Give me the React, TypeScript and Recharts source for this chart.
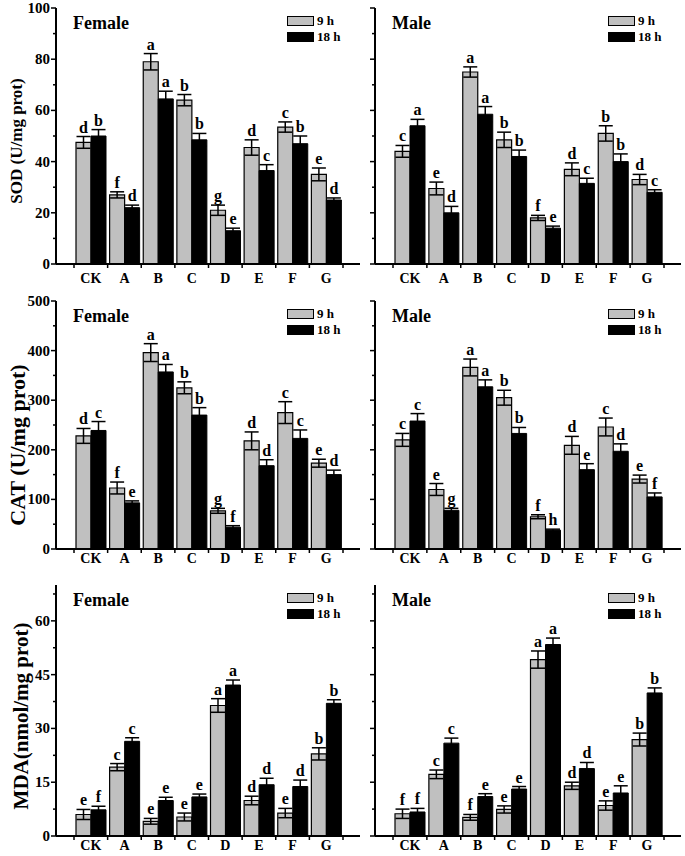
import React from 'react';
import { BarChart, Bar, XAxis, YAxis, ErrorBar, LabelList, Legend } from 'recharts';

const FONT = "'Liberation Serif', 'Times New Roman', Times, serif";

const categories = ['CK', 'A', 'B', 'C', 'D', 'E', 'F', 'G'];
const seriesNames = ['9 h', '18 h'];

// SOD female
const sodF9 = [47.5, 27, 79, 64, 21, 45.5, 53.5, 35];
const sodF9Err = [2.3, 1.2, 3.2, 2.2, 2, 3, 2, 2.5];
const sodF9Sig = ['d', 'f', 'a', 'b', 'g', 'd', 'c', 'e'];
const sodF18 = [50, 22, 64.5, 48.5, 13, 36.5, 47, 25];
const sodF18Err = [2.5, 1, 3, 2.5, 1, 2.3, 3, 0.8];
const sodF18Sig = ['b', 'd', 'a', 'b', 'e', 'c', 'b', 'd'];

// SOD male
const sodM9 = [44, 29.5, 75, 48.5, 18, 37, 51, 33];
const sodM9Err = [2.3, 2.5, 2, 3, 1, 2.5, 3, 2];
const sodM9Sig = ['c', 'e', 'a', 'b', 'f', 'd', 'b', 'd'];
const sodM18 = [54, 20, 58.5, 42, 14, 31.5, 40, 28];
const sodM18Err = [2.5, 2.5, 3, 2.5, 0.8, 2, 3, 1];
const sodM18Sig = ['a', 'd', 'a', 'b', 'e', 'c', 'b', 'c'];

// CAT female
const catF9 = [228, 123, 396, 325, 77, 218, 275, 173];
const catF9Err = [15, 12, 18, 12, 5, 18, 22, 8];
const catF9Sig = ['d', 'f', 'a', 'b', 'g', 'd', 'c', 'e'];
const catF18 = [239, 93, 357, 270, 44, 168, 223, 150];
const catF18Err = [18, 4, 15, 15, 3, 12, 17, 9];
const catF18Sig = ['c', 'e', 'a', 'b', 'f', 'd', 'c', 'd'];

// CAT male
const catM9 = [220, 120, 366, 305, 65, 209, 246, 141];
const catM9Err = [13, 12, 17, 15, 4, 18, 18, 8];
const catM9Sig = ['c', 'e', 'a', 'b', 'f', 'd', 'c', 'e'];
const catM18 = [258, 78, 327, 233, 38, 160, 197, 105];
const catM18Err = [15, 4, 14, 12, 2, 12, 15, 8];
const catM18Sig = ['c', 'g', 'a', 'b', 'h', 'e', 'd', 'f'];

// MDA female
const mdaF9 = [6, 19.2, 4.1, 5.3, 36.4, 9.9, 6.4, 22.9];
const mdaF9Err = [1.4, 1, 0.8, 1.1, 1.9, 1.2, 1.3, 1.7];
const mdaF9Sig = ['e', 'c', 'e', 'e', 'a', 'd', 'e', 'b'];
const mdaF18 = [7.3, 26.4, 9.9, 10.9, 42.1, 14.3, 13.8, 37];
const mdaF18Err = [1, 1, 0.9, 0.8, 1.4, 1.8, 1.8, 1];
const mdaF18Sig = ['f', 'c', 'e', 'e', 'a', 'd', 'd', 'b'];

// MDA male
const mdaM9 = [6.2, 17.2, 5.2, 7.4, 49.2, 14, 8.5, 26.9];
const mdaM9Err = [1.3, 1.2, 0.8, 1, 2.4, 1, 1.3, 1.8];
const mdaM9Sig = ['f', 'c', 'f', 'e', 'a', 'd', 'e', 'b'];
const mdaM18 = [6.7, 25.9, 11, 13.1, 53.4, 18.8, 12, 39.9];
const mdaM18Err = [1, 1.4, 0.8, 0.7, 1.8, 1.7, 2, 1.4];
const mdaM18Sig = ['f', 'c', 'e', 'e', 'a', 'd', 'e', 'b'];

type Row = { cat: string; v9: number; e9: number; l9: string; v18: number; e18: number; l18: string };

function makeRows(v9: number[], e9: number[], l9: string[], v18: number[], e18: number[], l18: string[]): Row[] {
  return categories.map((c, i) => ({ cat: c, v9: v9[i], e9: e9[i], l9: l9[i], v18: v18[i], e18: e18[i], l18: l18[i] }));
}

interface Spec {
  rows: Row[];
  max: number;
  step: number;
  major: number;
  left: number;
  right: number;
  top: number;
  bottom: number;
  showY: boolean;
  title: string;
  xGap: number;
}

function Panel({ spec }: { spec: Spec }) {
  const yW = spec.showY ? 50 : 8;
  const mTop = 10;
  const mRight = 4;
  const xH = 22;
  const plotW = spec.right - spec.left;
  const plotH = spec.bottom - spec.top;
  const width = plotW + yW + mRight;
  const height = plotH + mTop + xH;
  const cLeft = spec.left - yW;
  const cTop = spec.top - mTop;
  const padL = 18;
  const padR = 17;
  const n = categories.length;
  const band = (plotW - padL - padR) / n;
  const pxPerUnit = plotH / spec.max;
  const ticks: number[] = [];
  for (let k = 0; k * spec.step <= spec.max + 1e-9; k++) ticks.push(k * spec.step);

  const YTick = (props: any) => {
    const { x, y, payload } = props;
    const v = payload.value;
    const r = v / spec.major;
    const isMajor = Math.abs(r - Math.round(r)) < 1e-6;
    return (
      <g>
        <line x1={x} x2={x - (isMajor ? 5 : 3)} y1={y} y2={y} stroke="#000" strokeWidth={1.5} />
        {spec.showY && isMajor && (
          <text x={x - 6} y={y} dy={5} textAnchor="end" fontSize={15} fontWeight="bold" fontFamily={FONT} fill="#000">
            {v}
          </text>
        )}
      </g>
    );
  };

  const XTick = (props: any) => {
    const { x, y, payload, index } = props;
    return (
      <g>
        <line x1={x - band / 2} x2={x - band / 2} y1={y} y2={y + 4} stroke="#000" strokeWidth={1.5} />
        {index === n - 1 && <line x1={x + band / 2} x2={x + band / 2} y1={y} y2={y + 4} stroke="#000" strokeWidth={1.5} />}
        <text x={x} y={y + spec.xGap} textAnchor="middle" fontSize={14} fontWeight="bold" fontFamily={FONT} fill="#000">
          {payload.value}
        </text>
      </g>
    );
  };

  const letter = (errKey: 'e9' | 'e18') => (props: any) => {
    const vb = props.viewBox || {};
    const x = props.x ?? vb.x;
    const y = props.y ?? vb.y;
    const w = props.width ?? vb.width;
    const idx = props.index;
    const err = spec.rows[idx] ? spec.rows[idx][errKey] : 0;
    return (
      <text x={x + w / 2} y={y - err * pxPerUnit - 4} textAnchor="middle" fontSize={16} fontWeight="bold" fontFamily={FONT} fill="#000">
        {props.value}
      </text>
    );
  };

  const legendContent = (props: any) => {
    const payload = [...(props.payload || [])].sort(
      (a: any, b: any) => seriesNames.indexOf(a.value) - seriesNames.indexOf(b.value)
    );
    return (
      <div style={{ fontFamily: FONT, fontWeight: 'bold', fontSize: 13, color: '#000' }}>
        {payload.map((p: any, i: number) => (
          <div key={i} style={{ display: 'flex', alignItems: 'center', height: 16 }}>
            <span
              style={{
                display: 'inline-block',
                width: 27,
                height: 10,
                background: p.color,
                border: '1.5px solid #000',
                boxSizing: 'border-box',
                marginRight: 3,
              }}
            />
            <span style={{ lineHeight: '16px' }}>{p.value}</span>
          </div>
        ))}
      </div>
    );
  };

  return (
    <>
      <div style={{ position: 'absolute', left: cLeft, top: cTop, width, height }}>
        <BarChart
          width={width}
          height={height}
          data={spec.rows}
          margin={{ top: mTop, right: mRight, left: 0, bottom: 0 }}
          barCategoryGap={2}
          barGap={0}
        >
          <XAxis
            dataKey="cat"
            height={xH}
            interval={0}
            padding={{ left: padL, right: padR }}
            tickSize={0}
            tickMargin={0}
            tickLine={false}
            axisLine={{ stroke: '#000', strokeWidth: 2 }}
            tick={XTick}
          />
          <XAxis xAxisId="top" orientation="top" height={0} tick={false} tickLine={false} axisLine={{ stroke: '#000', strokeWidth: 2 }} />
          <YAxis
            width={yW}
            domain={[0, spec.max]}
            ticks={ticks}
            interval={0}
            allowDataOverflow
            tickSize={0}
            tickMargin={0}
            tickLine={false}
            axisLine={{ stroke: '#000', strokeWidth: 2 }}
            tick={YTick}
          />
          <YAxis yAxisId="right" orientation="right" width={0} tick={false} tickLine={false} axisLine={{ stroke: '#000', strokeWidth: 2 }} />
          <Legend
            layout="vertical"
            align="center"
            verticalAlign="middle"
            content={legendContent}
            wrapperStyle={{ top: mTop + 5, left: yW + plotW - 73, width: 70, height: 34 }}
          />
          <Bar dataKey="v9" name={seriesNames[0]} fill="#c0c0c0" stroke="#000" strokeWidth={1.2} isAnimationActive={false}>
            <ErrorBar dataKey="e9" width={7} strokeWidth={1.5} stroke="#000" direction="y" />
            <LabelList dataKey="l9" content={letter('e9')} />
          </Bar>
          <Bar dataKey="v18" name={seriesNames[1]} fill="#000" stroke="#000" strokeWidth={1} isAnimationActive={false}>
            <ErrorBar dataKey="e18" width={7} strokeWidth={1.5} stroke="#000" direction="y" />
            <LabelList dataKey="l18" content={letter('e18')} />
          </Bar>
        </BarChart>
      </div>
      <div
        style={{
          position: 'absolute',
          left: spec.left + 17,
          top: spec.top + 6,
          fontFamily: FONT,
          fontWeight: 'bold',
          fontSize: 18,
          lineHeight: '18px',
          color: '#000',
          whiteSpace: 'nowrap',
        }}
      >
        {spec.title}
      </div>
    </>
  );
}

function YTitle({ text, cx, cy, size }: { text: string; cx: number; cy: number; size: number }) {
  return (
    <div
      style={{
        position: 'absolute',
        left: cx,
        top: cy,
        transform: 'translate(-50%, -50%) rotate(-90deg)',
        fontFamily: FONT,
        fontWeight: 'bold',
        fontSize: size,
        lineHeight: `${size}px`,
        whiteSpace: 'nowrap',
        color: '#000',
      }}
    >
      {text}
    </div>
  );
}

const FL = 56, FR = 360, ML = 375, MR = 681;

const specs: Spec[] = [
  { rows: makeRows(sodF9, sodF9Err, sodF9Sig, sodF18, sodF18Err, sodF18Sig), max: 100, step: 10, major: 20, left: FL, right: FR, top: 8, bottom: 264, showY: true, title: 'Female', xGap: 19 },
  { rows: makeRows(sodM9, sodM9Err, sodM9Sig, sodM18, sodM18Err, sodM18Sig), max: 100, step: 10, major: 20, left: ML, right: MR, top: 8, bottom: 264, showY: false, title: 'Male', xGap: 19 },
  { rows: makeRows(catF9, catF9Err, catF9Sig, catF18, catF18Err, catF18Sig), max: 500, step: 50, major: 100, left: FL, right: FR, top: 301, bottom: 549, showY: true, title: 'Female', xGap: 14 },
  { rows: makeRows(catM9, catM9Err, catM9Sig, catM18, catM18Err, catM18Sig), max: 500, step: 50, major: 100, left: ML, right: MR, top: 301, bottom: 549, showY: false, title: 'Male', xGap: 14 },
  { rows: makeRows(mdaF9, mdaF9Err, mdaF9Sig, mdaF18, mdaF18Err, mdaF18Sig), max: 70, step: 7.5, major: 15, left: FL, right: FR, top: 585, bottom: 836, showY: true, title: 'Female', xGap: 14 },
  { rows: makeRows(mdaM9, mdaM9Err, mdaM9Sig, mdaM18, mdaM18Err, mdaM18Sig), max: 70, step: 7.5, major: 15, left: ML, right: MR, top: 585, bottom: 836, showY: false, title: 'Male', xGap: 14 },
];

export default function App() {
  return (
    <div style={{ position: 'absolute', left: 0, top: 0, width: 685, height: 856, overflow: 'hidden', background: '#fff' }}>
      {specs.map((s, i) => (
        <Panel key={i} spec={s} />
      ))}
      <YTitle text="SOD (U/mg prot)" cx={16} cy={141} size={17} />
      <YTitle text="CAT (U/mg prot)" cx={18} cy={445} size={22} />
      <YTitle text="MDA(nmol/mg prot)" cx={21} cy={716} size={21} />
    </div>
  );
}
